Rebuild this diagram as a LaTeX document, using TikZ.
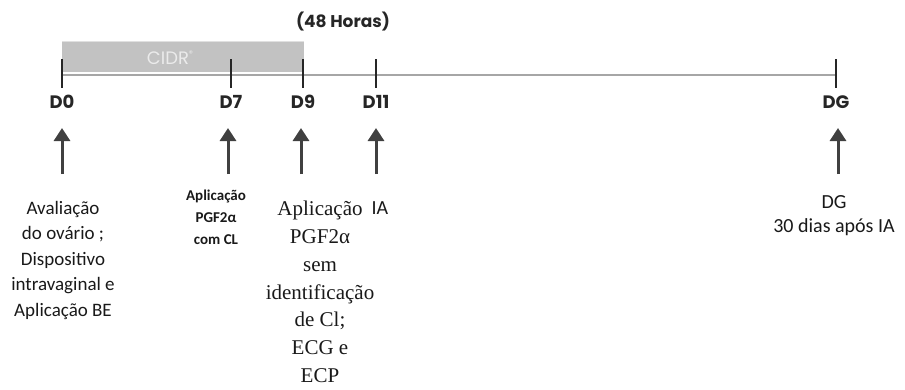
\documentclass[tikz,border=0pt]{standalone}
\usepackage{fontspec}
\setmainfont{Carlito}
\newfontfamily\popfont{Poppins}
\newfontfamily\serfont{Liberation Serif}
\usetikzlibrary{arrows.meta}
\begin{document}
\begin{tikzpicture}[x=1pt,y=-1pt,
  tick/.style={line width=2.6pt,black!85},
  dlabel/.style={font=\popfont\bfseries\fontsize{18}{18}\selectfont,text=black!85,inner sep=0pt},
  uparrow/.style={line width=3pt,black!75,-{Triangle[width=16pt,length=13pt]}},
  note/.style={align=center,inner sep=0pt,text=black!90}]
\useasboundingbox (0,0) rectangle (905,389);
% CIDR box
\fill[black!24] (62,41) rectangle (304,72);
\draw[black!12,line width=1pt] (62,41.5) -- (304,41.5);
\node[font=\popfont\fontsize{18}{18}\selectfont,text=white!92!black,inner sep=0pt] (cidr) at (170,58) {CIDR\raisebox{0.8ex}{\fontsize{8}{8}\selectfont\textregistered}};
\node[font=\popfont\bfseries\fontsize{17}{17}\selectfont,text=black!85,inner sep=0pt] (h48) at (343,22) {(48 Horas)};
% timeline
\coordinate (tl0) at (62,75);
\coordinate (tl1) at (836,75);
\draw[black!35,line width=2.6pt] (tl0) -- (tl1);
\foreach \n/\x/\t in {d0/62/D0,d7/231/D7,d9/303/D9,d11/376/D11,dg/836/DG}{
  \coordinate (\n t) at (\x,59);
  \coordinate (\n b) at (\x,88);
  \draw[tick] (\n t) -- (\n b);
  \node[dlabel] (\n l) at (\x,102) {\t};
}
% arrows
\foreach \n/\x in {a0/62,a7/228,a9/301,a11/376,ag/838}{
  \coordinate (\n s) at (\x,174);
  \coordinate (\n e) at (\x,128);
  \draw[uparrow] (\n s) -- (\n e);
}
% notes
\node[note,font=\fontsize{19}{25.5}\selectfont,anchor=north] (n0) at (63,201) {Avaliação\\do ovário ;\\Dispositivo\\intravaginal e\\Aplicação BE};
\node[note,font=\bfseries\fontsize{15}{22}\selectfont,anchor=north] (n7) at (216,190) {Aplicação\\PGF2α\\com CL};
\node[note,font=\serfont\fontsize{21}{27.8}\selectfont,anchor=north] (n9) at (320,201) {Aplicação\\PGF2α\\sem\\identificação\\de Cl;\\ECG e\\ECP};
\node[note,font=\fontsize{20}{20}\selectfont] (n11) at (380,208) {IA};
\node[note,font=\fontsize{20}{24}\selectfont,anchor=north] (ng) at (834,195) {DG\\30 dias após IA};
\end{tikzpicture}
\end{document}
